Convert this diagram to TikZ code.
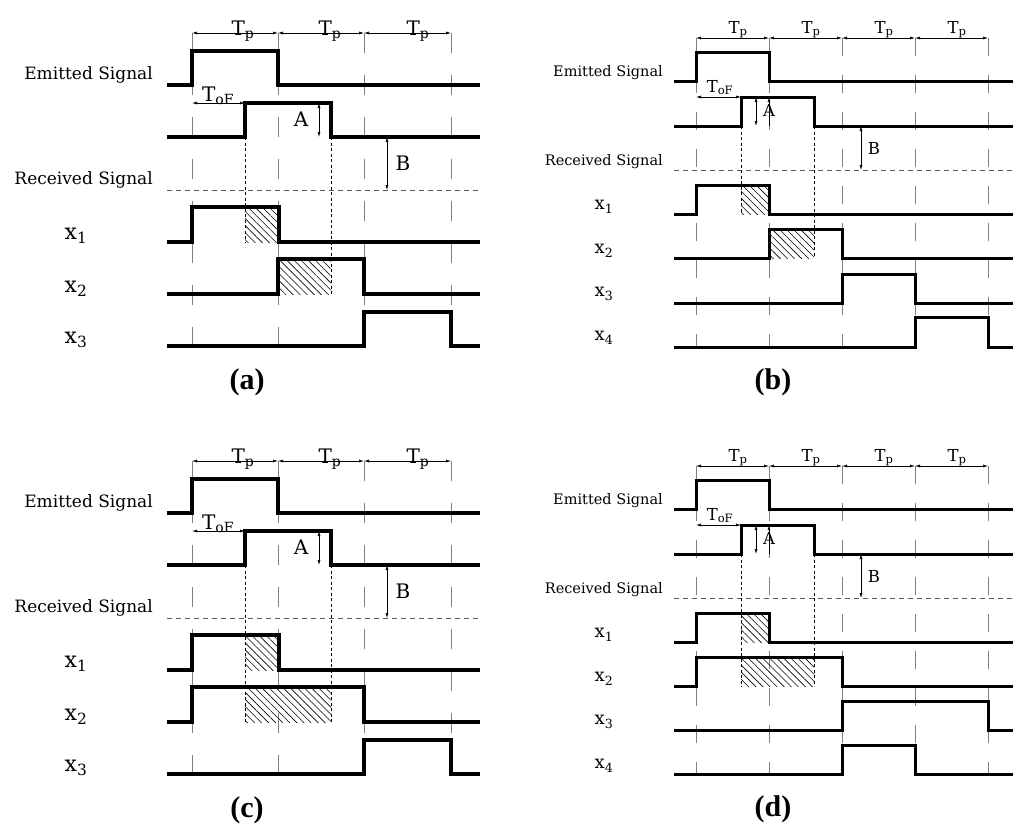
\documentclass[tikz,border=0pt]{standalone}
\usepackage{fontspec}
\setmainfont{DejaVu Serif}
\newfontfamily\panelfont{Liberation Serif}
\usetikzlibrary{arrows.meta}
\usetikzlibrary{patterns.meta}

\tikzset{
  sig/.style={line width=3.2pt},
  sigb/.style={line width=3pt},
  gridln/.style={gray, line width=0.9pt, dash pattern=on 20pt off 22pt},
  gridlnb/.style={gray, line width=0.9pt, dash pattern=on 18pt off 19pt},
  dimarr/.style={line width=0.6pt, {Latex[length=5pt,width=3pt]}-{Latex[length=5pt,width=3pt]}},
  uparr/.style={line width=0.6pt, -{Latex[length=5pt,width=3pt]}},
  guide/.style={line width=0.6pt, dash pattern=on 3pt off 2.5pt},
  baseln/.style={gray!70!black, line width=0.8pt, dash pattern=on 5pt off 4pt},
  hatch/.style={pattern={Lines[angle=-45, distance=5pt, line width=0.6pt]}},
  txta/.style={font=\fontsize{17}{20}\selectfont, inner sep=1pt},
  txtb/.style={font=\fontsize{14.5}{17}\selectfont, inner sep=1pt},
  syma/.style={font=\fontsize{20}{22}\selectfont, inner sep=0pt},
  symb/.style={font=\fontsize{16.5}{19}\selectfont, inner sep=0pt},
  vara/.style={font=\fontsize{22}{24}\selectfont, inner sep=0pt},
  varb/.style={font=\fontsize{18}{20}\selectfont, inner sep=0pt},
  caption/.style={font=\panelfont\bfseries\fontsize{30}{34}\selectfont},
}

\begin{document}
\begin{tikzpicture}[x=1pt, y=-1pt]
\useasboundingbox (0, 0) rectangle (1024, 836);

% panels (a) and (c): three periods
\foreach \oy/\p in {0/a, 428/c} {
\begin{scope}[yshift=-\oy pt]
  \foreach \x in {192, 278, 364, 451}
    \draw [gridln] (\x, 33) -- (\x, 346);
  \draw [baseln] (167, 190) -- (480, 190);
  \draw [guide] (331, 137) -- (331, 294);

  \draw [dimarr] (192, 33) -- (278, 33);
  \draw [dimarr] (278, 33) -- (364, 33);
  \draw [dimarr] (364, 33) -- (451, 33);
  \node (tp1\p) [syma, anchor=base] at (243, 35) {T\textsubscript{p}};
  \node (tp2\p) [syma, anchor=base] at (330, 35) {T\textsubscript{p}};
  \node (tp3\p) [syma, anchor=base] at (418, 35) {T\textsubscript{p}};

  \fill [hatch] (245, 207) rectangle (279, 242);
  \draw [sig] (167, 85) -- (192, 85) -- (192, 51) -- (278, 51) -- (278, 85) -- (480, 85);
  \draw [sig] (167, 137) -- (245, 137) -- (245, 103) -- (331, 103) -- (331, 137) -- (480, 137);
  \draw [sig] (167, 242) -- (192, 242) -- (192, 207) -- (279, 207) -- (279, 242) -- (480, 242);
  \draw [sig] (167, 346) -- (364, 346) -- (364, 312) -- (451, 312) -- (451, 346) -- (480, 346);

  \draw [dimarr] (192, 103) -- (245, 103);
  \draw [dimarr] (319, 103) -- (319, 137);
  \draw [dimarr] (387, 137) -- (387, 190);
  \node (tof\p) [syma, anchor=base] at (218, 101) {T\textsubscript{oF}};
  \node (amp\p) [syma] at (301, 119) {A};
  \node (off\p) [syma] at (403, 163) {B};

  \node (emit\p) [txta, anchor=east] at (154, 75) {Emitted Signal};
  \node (recv\p) [txta, anchor=east] at (154, 180) {Received Signal};
  \node (xa\p) [vara] at (76, 236) {x\textsubscript{1}};
  \node (xb\p) [vara] at (76, 289) {x\textsubscript{2}};
  \node (xc\p) [vara] at (76, 340) {x\textsubscript{3}};
\end{scope}
}

% (a) rest
\draw [guide] (245, 137) -- (245, 242);
\fill [hatch] (278, 259) rectangle (331, 294);
\draw [sig] (167, 294) -- (278, 294) -- (278, 259) -- (364, 259) -- (364, 294) -- (480, 294);
\node (capa) [caption] at (247, 382) {(a)};

% (c) rest
\draw [guide] (245, 565) -- (245, 722);
\fill [hatch] (245, 687) rectangle (331, 722);
\draw [sig] (167, 722) -- (192, 722) -- (192, 687) -- (364, 687) -- (364, 722) -- (480, 722);
\node (capc) [caption] at (247, 810) {(c)};

% panels (b) and (d): four periods
\foreach \oy/\p in {0/b, 428/d} {
\begin{scope}[yshift=-\oy pt]
  \foreach \x in {696, 769, 842, 915, 988}
    \draw [gridlnb] (\x, 38) -- (\x, 347);
  \draw [baseln] (674, 170) -- (1013, 170);

  \draw [dimarr] (696, 38) -- (769, 38);
  \draw [dimarr] (769, 38) -- (842, 38);
  \draw [dimarr] (842, 38) -- (915, 38);
  \draw [dimarr] (915, 38) -- (988, 38);
  \node (tp1\p) [symb, anchor=base] at (738, 33) {T\textsubscript{p}};
  \node (tp2\p) [symb, anchor=base] at (811, 33) {T\textsubscript{p}};
  \node (tp3\p) [symb, anchor=base] at (884, 33) {T\textsubscript{p}};
  \node (tp4\p) [symb, anchor=base] at (957, 33) {T\textsubscript{p}};

  \fill [hatch] (741, 185) rectangle (769, 214);
  \draw [sigb] (674, 81) -- (696, 81) -- (696, 52) -- (769, 52) -- (769, 81) -- (1013, 81);
  \draw [sigb] (674, 126) -- (741, 126) -- (741, 97) -- (814, 97) -- (814, 126) -- (1013, 126);
  \draw [sigb] (674, 214) -- (696, 214) -- (696, 185) -- (769, 185) -- (769, 214) -- (1013, 214);

  \draw [dimarr] (696, 97) -- (741, 97);
  \draw [dimarr] (756, 97) -- (756, 126);
  \draw [uparr] (769, 126) -- (769, 97);
  \draw [dimarr] (861, 126) -- (861, 170);
  \node (tof\p) [symb, anchor=base] at (720, 92) {T\textsubscript{oF}};
  \node (amp\p) [symb] at (769, 110) {A};
  \node (off\p) [symb] at (874, 148) {B};

  \node (emit\p) [txtb, anchor=east] at (664, 73) {Emitted Signal};
  \node (recv\p) [txtb, anchor=east] at (664, 162) {Received Signal};
  \node (xa\p) [varb] at (604, 207) {x\textsubscript{1}};
  \node (xb\p) [varb] at (604, 251) {x\textsubscript{2}};
  \node (xc\p) [varb] at (604, 294) {x\textsubscript{3}};
  \node (xd\p) [varb] at (604, 338) {x\textsubscript{4}};
\end{scope}
}

% (b) rest
\draw [guide] (741, 126) -- (741, 214);
\draw [guide] (814, 126) -- (814, 258);
\fill [hatch] (769, 229) rectangle (814, 258);
\draw [sigb] (674, 258) -- (769, 258) -- (769, 229) -- (842, 229) -- (842, 258) -- (1013, 258);
\draw [sigb] (674, 303) -- (842, 303) -- (842, 274) -- (915, 274) -- (915, 303) -- (1013, 303);
\draw [sigb] (674, 347) -- (915, 347) -- (915, 317) -- (988, 317) -- (988, 347) -- (1013, 347);
\node (capb) [caption] at (773, 382) {(b)};

% (d) rest
\draw [guide] (741, 554) -- (741, 686);
\draw [guide] (814, 554) -- (814, 686);
\fill [hatch] (741, 657) rectangle (814, 686);
\draw [sigb] (674, 686) -- (696, 686) -- (696, 657) -- (842, 657) -- (842, 686) -- (1013, 686);
\draw [sigb] (674, 730) -- (842, 730) -- (842, 701) -- (988, 701) -- (988, 730) -- (1013, 730);
\draw [sigb] (674, 774) -- (842, 774) -- (842, 745) -- (915, 745) -- (915, 774) -- (1013, 774);
\node (capd) [caption] at (773, 809) {(d)};
\end{tikzpicture}
\end{document}
